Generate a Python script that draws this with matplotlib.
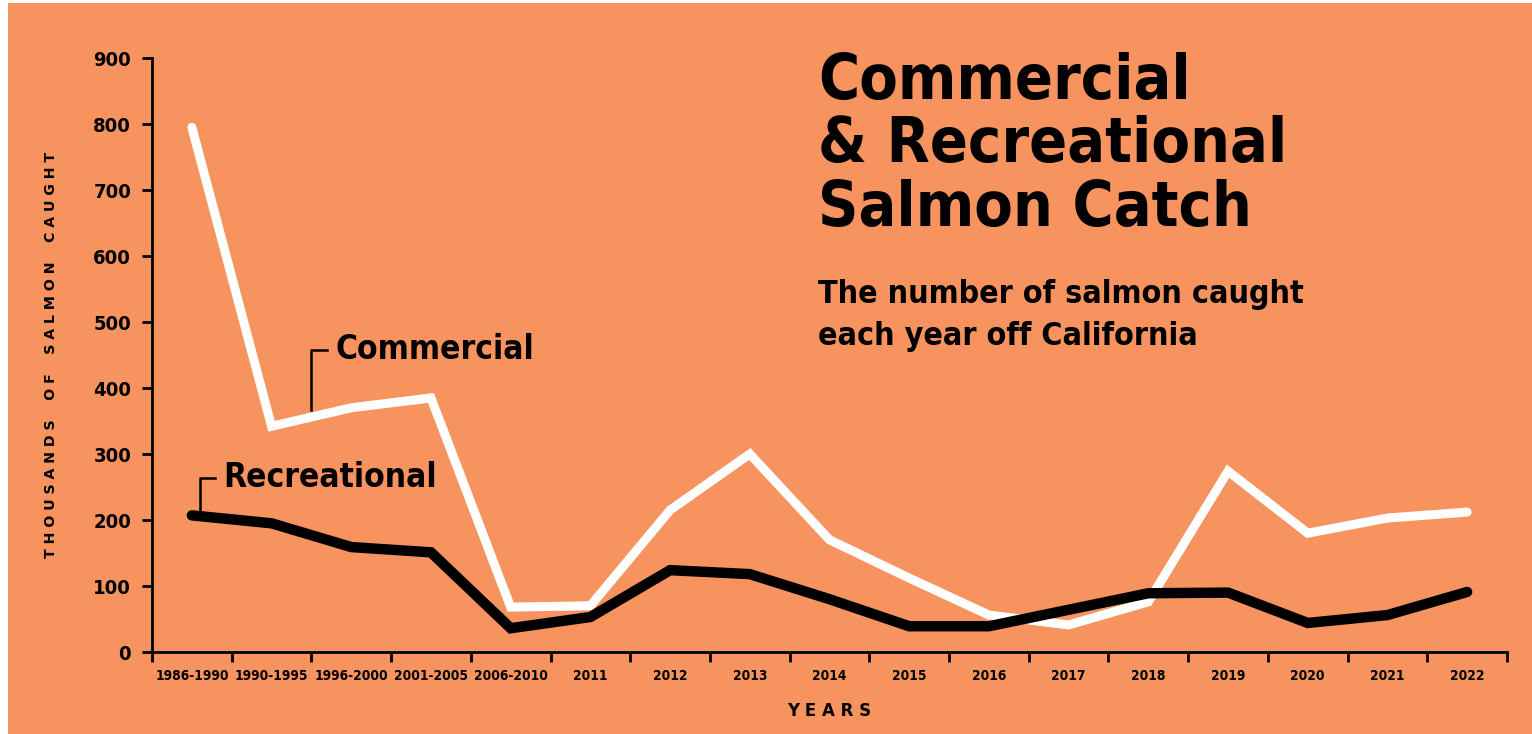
import matplotlib
matplotlib.use("Agg")
import matplotlib.pyplot as plt
from matplotlib.patches import Rectangle
from matplotlib.lines import Line2D

years = ["1986-1990", "1990-1995", "1996-2000", "2001-2005", "2006-2010",
         "2011", "2012", "2013", "2014", "2015", "2016", "2017", "2018",
         "2019", "2020", "2021", "2022"]
commercial = [795, 342, 370, 385, 68, 70, 215, 300, 170, 112, 56, 41, 76,
              274, 180, 203, 212]
recreational = [207, 195, 159, 151, 36, 53, 124, 118, 80, 39, 39, 64, 89,
                90, 44, 56, 91]
yticks = [0, 100, 200, 300, 400, 500, 600, 700, 800, 900]

bg = "#F6935F"
plt.rcParams["font.family"] = ["DejaVu Sans"]
plt.rcParams["font.stretch"] = "condensed"

fig = plt.figure(figsize=(15.32, 7.34), dpi=100)
fig.patch.set_facecolor("white")
fig.patches.append(Rectangle((8 / 1532, 0), 1, 1 - 3 / 734, transform=fig.transFigure,
                             facecolor=bg, edgecolor="none", zorder=-5))

ax = fig.add_axes([152 / 1532, 82 / 734, 1355 / 1532, 594 / 734])
ax.set_facecolor("none")
x = list(range(len(years)))
ax.plot(x, commercial, color="white", lw=6.5, solid_capstyle="round",
        solid_joinstyle="miter", zorder=3)
ax.plot(x, recreational, color="black", lw=7.5, solid_capstyle="round",
        solid_joinstyle="miter", zorder=4)

ax.set_xlim(-0.5, len(years) - 0.5)
ax.set_ylim(0, 900)
for s in ["top", "right"]:
    ax.spines[s].set_visible(False)
ax.spines["left"].set_linewidth(2)
ax.spines["bottom"].set_linewidth(2)

ax.set_xticks([i - 0.5 for i in range(len(years) + 1)])
ax.set_xticklabels([])
ax.set_xticks(x, minor=True)
ax.set_xticklabels(years, minor=True, fontsize=9.8, fontweight="bold")
ax.tick_params(axis="x", which="major", length=7, width=2, direction="out")
ax.tick_params(axis="x", which="minor", length=0, pad=12)
ax.set_yticks(yticks)
ax.set_yticklabels([str(v) for v in yticks], fontsize=14.5, fontweight="bold")
ax.tick_params(axis="y", length=7, width=2, pad=8)

ax.set_xlabel("Y E A R S", fontsize=12, fontweight="bold",
              fontstretch="normal", labelpad=14)
ax.set_ylabel("T H O U S A N D S    O F    S A L M O N    C A U G H T",
              fontsize=10.2, fontweight="bold", fontstretch="normal", labelpad=25)

# series labels with callout brackets
ax.add_line(Line2D([1.5, 1.5, 1.7], [367, 458, 458], color="black", lw=1.8,
                   zorder=5))
ax.text(1.8, 458, "Commercial", fontsize=24, fontweight="bold", va="center")
ax.add_line(Line2D([0.1, 0.1, 0.29], [212, 264, 264], color="black", lw=1.8,
                   zorder=5))
ax.text(0.4, 264, "Recreational", fontsize=24, fontweight="bold", va="center")

fig.text(818 / 1532, 1 - 52 / 734, "Commercial\n& Recreational\nSalmon Catch",
         fontsize=45, fontweight="bold", va="top", ha="left", linespacing=1.07)
fig.text(818 / 1532, 1 - 279 / 734, "The number of salmon caught\neach year off California",
         fontsize=23, fontweight="bold", va="top", ha="left", linespacing=1.45)

fig.savefig("out.png", dpi=100, facecolor=fig.get_facecolor())
